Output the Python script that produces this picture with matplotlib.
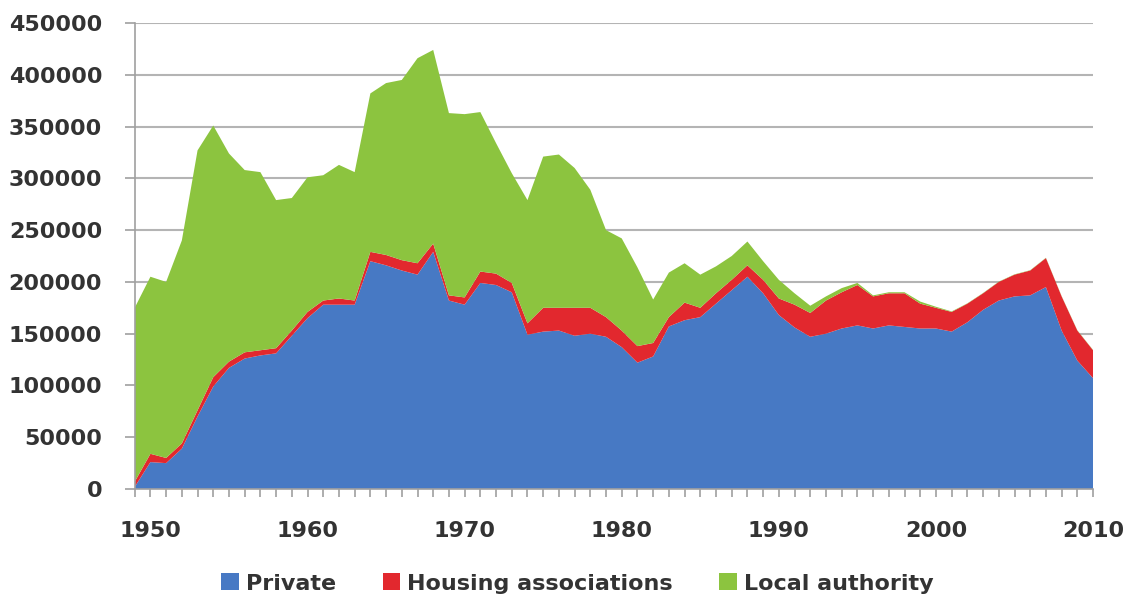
import numpy as np
import matplotlib
matplotlib.use("Agg")
import matplotlib.pyplot as plt

# house building completions by tenure, 1949-2010
years = list(range(1949, 2011))

private = [2000, 26000, 25000, 39000, 70000, 99000, 117000, 126000, 129000, 131000,
           148000, 165000, 178000, 178000, 178000, 220000, 216000, 211000, 207000, 229000,
           182000, 178000, 199000, 197000, 190000, 149000, 152000, 153000, 148000, 150000,
           147000, 137000, 122000, 128000, 157000, 163000, 166000, 179000, 192000, 205000,
           189000, 168000, 156000, 147000, 150000, 155000, 158000, 155000, 158000, 156500,
           155000, 155000, 152000, 161000, 173000, 182000, 186000, 187000, 195000, 153000,
           124000, 107000]

housing_assoc = [5000, 8000, 5000, 5000, 6000, 9000, 6000, 6000, 5000, 5000,
                 5000, 6000, 4000, 6000, 4000, 9000, 10000, 10000, 11000, 8000,
                 5000, 7000, 11000, 11000, 9000, 11000, 23000, 22000, 27000, 25000,
                 19000, 16000, 16000, 13000, 9000, 17000, 9000, 10000, 10000, 11000,
                 13000, 16000, 22000, 23000, 32000, 35000, 39000, 31000, 31000, 32500,
                 24000, 20000, 19000, 18000, 16000, 18000, 21000, 24000, 28000, 33000,
                 29000, 27000]

local_auth = [168000, 171000, 170000, 196000, 251000, 243000, 201000, 176000, 172000, 143000,
              128000, 130000, 121000, 129000, 124000, 153000, 166000, 174000, 198000, 187000,
              176000, 177000, 154000, 126000, 106000, 119000, 146000, 148000, 135000, 114000,
              84000, 89000, 76000, 42000, 43000, 38000, 32000, 26000, 23000, 23000,
              18000, 18000, 11000, 7000, 4000, 4000, 2000, 1000, 1000, 1000,
              2000, 1000, 500, 300, 300, 300, 300, 300, 300, 300,
              300, 300]

labels = ['Private', 'Housing associations', 'Local authority']
colours = ['#4779C4', '#E2282E', '#8CC43F']

fig = plt.figure(figsize=(11.32, 5.99), dpi=100)
ax = fig.add_axes([0.119, 0.1836, 0.8466, 0.778])

ax.stackplot(years, private, housing_assoc, local_auth,
             labels=labels, colors=colours, linewidth=0, zorder=2)

ax.set_xlim(1949, 2010)
ax.set_ylim(0, 450000)
ax.set_yticks(np.arange(0, 450001, 50000))
ax.set_xticks(range(1950, 2011, 10))
ax.set_xticks(years, minor=True)

ax.grid(axis='y', color='#b4b4b4', linewidth=1.5, zorder=0)
ax.set_axisbelow(True)

for s in ['top', 'right']:
    ax.spines[s].set_visible(False)
for s in ['left', 'bottom']:
    ax.spines[s].set_color('#a0a0a0')
    ax.spines[s].set_linewidth(1.2)

ax.tick_params(axis='y', length=7.5, width=1.2, color='#a0a0a0', pad=16,
               labelsize=16, labelcolor='#333333')
ax.tick_params(axis='x', which='both', length=6, width=1.2, color='#a0a0a0')
ax.tick_params(axis='x', which='major', pad=17, labelsize=16, labelcolor='#333333')

for t in ax.get_xticklabels() + ax.get_yticklabels():
    t.set_fontweight('bold')

leg = fig.legend(loc='center', bbox_to_anchor=(0.51, 0.026), ncol=3, frameon=False,
                 prop={'size': 16, 'weight': 'bold'}, handlelength=0.8, handleheight=0.8,
                 handletextpad=0.3, columnspacing=2.1)
for t in leg.get_texts():
    t.set_color('#333333')

plt.savefig('out.png', dpi=100)
